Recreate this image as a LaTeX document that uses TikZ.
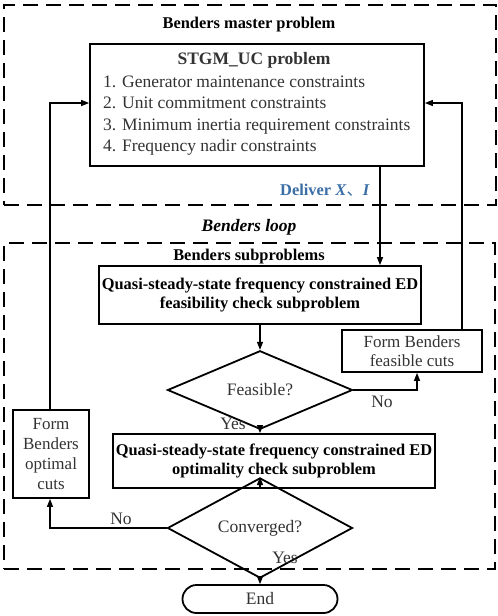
\documentclass[tikz,border=0pt]{standalone}
\usepackage{fontspec}
\setmainfont{Liberation Serif}
\newfontfamily\cjk{Noto Sans CJK SC}
\usetikzlibrary{shapes.geometric,arrows.meta,calc}
\definecolor{txtgray}{HTML}{333333}
\definecolor{delblue}{HTML}{3A6EA5}
\tikzset{
  base/.style={font=\fontsize{17.5}{20}\selectfont},
  boxn/.style={draw, line width=1.8pt, inner sep=2pt, align=center},
  dashbox/.style={draw, line width=2.4pt, dash pattern=on 15pt off 8pt},
  decision/.style={draw, shape=diamond, line width=1.8pt, inner sep=0pt, text=txtgray},
  conn/.style={line width=1.2pt, -{Triangle[length=8pt,width=6pt]}},
  lbl/.style={text=txtgray, inner sep=0pt},
  listitem/.style={anchor=base west, text=txtgray, inner sep=0pt},
  subbox/.style={boxn, minimum width=322, font=\fontsize{16.4}{19.5}\selectfont\bfseries},
}
\begin{document}
\begin{tikzpicture}[x=1pt,y=-1pt,base]
\useasboundingbox (0,0) rectangle (498,616);
% dashed regions
\node[dashbox, minimum width=492, minimum height=200, anchor=north west] (top) at (3,4) {};
\node[dashbox, minimum width=491, minimum height=326, anchor=north west] (bot) at (3,242) {};
\node[font=\fontsize{16.4}{20}\selectfont\bfseries] (ttop) at (249,25) {Benders master problem};
\node[font=\fontsize{17.5}{20}\selectfont\bfseries\itshape] (tloop) at (249,227) {Benders loop};
\node[font=\fontsize{16.4}{20}\selectfont\bfseries] (tsub) at (249,257) {Benders subproblems};
% master box
\node[boxn, minimum width=334, minimum height=122] (master) at (257,105) {};
\node[font=\fontsize{17.5}{20}\selectfont\bfseries, text=txtgray] (mtitle) at (254,60) {STGM\_UC problem};
\node[listitem] (m1) at (103,87) {1. Generator maintenance constraints};
\node[listitem] (m2) at (103,108.5) {2. Unit commitment constraints};
\node[listitem] (m3) at (103,130) {3. Minimum inertia requirement constraints};
\node[listitem] (m4) at (103,151.5) {4. Frequency nadir constraints};
% subproblems
\node[subbox, minimum height=58] (sub1) at (260,295)
  {Quasi-steady-state frequency constrained ED\\feasibility check subproblem};
\node[decision, minimum width=185, minimum height=45] (d1) at (260,390) {Feasible?};
\node[boxn, minimum width=140, minimum height=42, text=txtgray, font=\fontsize{17}{19}\selectfont] (feas) at (412,351)
  {Form Benders\\feasible cuts};
\node[subbox, minimum height=54] (sub2) at (274,461)
  {Quasi-steady-state frequency constrained ED\\optimality check subproblem};
\node[decision, minimum width=185, minimum height=43] (d2) at (260,528) {Converged?};
\node[boxn, minimum width=76, minimum height=88, text=txtgray, font=\fontsize{17}{19.7}\selectfont] (opt) at (51,454)
  {Form\\Benders\\optimal\\cuts};
\node[draw, line width=1.8pt, rounded corners=14pt, minimum width=155, minimum height=28, text=txtgray] (endn) at (260,599) {End};
% labels
\node[font=\fontsize{16.4}{20}\selectfont\bfseries, text=delblue] (deliver) at (325,190) {Deliver \textit{X}{\cjk\mdseries 、}\textit{I}};
\node[lbl] (no1) at (382,402) {No};
\node[lbl] (yes1) at (233,424) {Yes};
\node[lbl] (no2) at (121,519) {No};
\node[lbl] (yes2) at (285,558) {Yes};
% coordinates
\coordinate (xdl) at (380,0);
\coordinate (xfc) at (417,0);
\coordinate (xrt) at (462,0);
\coordinate (xlt) at (50,0);
\coordinate (yin) at (0,103);
% connectors
\draw[conn] (master.south -| xdl) -- (sub1.north -| xdl);
\draw[conn] (sub1.south) -- (d1.north);
\draw[conn] (d1.east) -| (feas.south -| xfc);
\draw[conn] (feas.north -| xrt) |- (master.east |- yin);
\draw[conn] (d1.south) -- (d1.south |- sub2.north);
\draw[conn] (d1.south |- sub2.south) -- (d2.north);
\draw[conn] (d2.west) -| (opt.south -| xlt);
\draw[conn] (opt.north -| xlt) |- (master.west |- yin);
\draw[conn] (d2.south) -- (endn.north);
\end{tikzpicture}
\end{document}
